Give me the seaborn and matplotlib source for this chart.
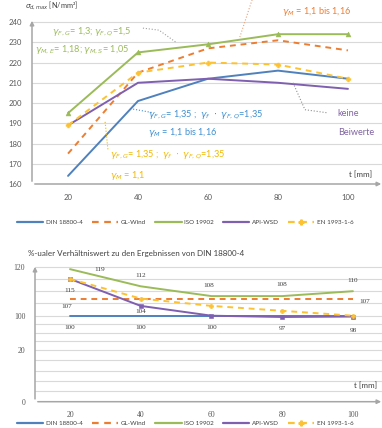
import numpy as np
import pandas as pd
import matplotlib
matplotlib.use('Agg')
import matplotlib.pyplot as plt
import seaborn as sns
from matplotlib.lines import Line2D

# --- data ---
thickness = [20, 40, 60, 80, 100]
norms = ['DIN 18800-4', 'GL-Wind', 'ISO 19902', 'API-WSD', 'EN 1993-1-6']

din_stress = [164, 201, 212, 216, 212]
gl_stress = [175, 215, 227, 231, 226]
iso_stress = [195, 225, 229, 234, 234]
api_stress = [189, 210, 212, 210, 207]
en_stress = [189, 215, 220, 219, 212]

din_ratio = [100, 100, 100, 100, 100]
gl_ratio = [107, 107, 107, 107, 107]
iso_ratio = [119, 112, 108, 108, 110]
api_ratio = [115, 104, 100, 97, 98]
en_ratio = [115, 107, 104, 102, 100]

top_yticks = [160, 170, 180, 190, 200, 210, 220, 230, 240]
bottom_yticks = [0, 20, 100, 120]
bottom_minor = [4, 8, 12, 16, 40, 60, 80, 105, 110, 115]

# --- styles ---
colors = {'DIN 18800-4': '#4f81bd', 'GL-Wind': '#ed7d31', 'ISO 19902': '#9bbb59',
          'API-WSD': '#7f5fb0', 'EN 1993-1-6': '#fcc233'}
lstyles = {'DIN 18800-4': '-', 'GL-Wind': (0, (3, 2.5)), 'ISO 19902': '-',
           'API-WSD': '-', 'EN 1993-1-6': (0, (3, 2.5))}
markers_top = {'DIN 18800-4': None, 'GL-Wind': None, 'ISO 19902': '^',
               'API-WSD': None, 'EN 1993-1-6': 'P'}
markers_bot = {'DIN 18800-4': None, 'GL-Wind': None, 'ISO 19902': None,
               'API-WSD': 's', 'EN 1993-1-6': 'P'}

stress = pd.DataFrame({'t': thickness, 'DIN 18800-4': din_stress, 'GL-Wind': gl_stress,
                       'ISO 19902': iso_stress, 'API-WSD': api_stress, 'EN 1993-1-6': en_stress})
ratio = pd.DataFrame({'t': thickness, 'DIN 18800-4': din_ratio, 'GL-Wind': gl_ratio,
                      'ISO 19902': iso_ratio, 'API-WSD': api_ratio, 'EN 1993-1-6': en_ratio})

sns.set_style('white')
plt.rcParams['font.family'] = ['Lato', 'DejaVu Sans']
plt.rcParams['mathtext.fontset'] = 'dejavusans'

W, H = 382, 428
fig = plt.figure(figsize=(W / 100, H / 100), dpi=100)
grid_c = '#d9d9d9'
axis_c = '#a6a6a6'
tick_c = '#595959'


def add_arrows(ax):
    for sp in ax.spines.values():
        sp.set_visible(False)
    kw = dict(arrowstyle='-|>', color=axis_c, lw=1.1, mutation_scale=6)
    ax.annotate('', xy=(0, 1), xytext=(0, 0), xycoords='axes fraction', arrowprops=kw, annotation_clip=False)
    ax.annotate('', xy=(1, 0), xytext=(0, 0), xycoords='axes fraction', arrowprops=kw, annotation_clip=False)


# ================= top chart =================
ax1 = fig.add_axes([32 / W, 1 - 184 / H, 352 / W, 166 / H])
for n in norms:
    m = markers_top[n]
    sns.lineplot(data=stress, x='t', y=n, ax=ax1, color=colors[n], linestyle=lstyles[n],
                 lw=1.4, marker=m, markersize=3.5 if m else 0, markeredgewidth=0.4,
                 markeredgecolor=colors[n])
ax1.set_xlim(9.7, 110.3)
ax1.set_ylim(160, 242)
ax1.set_xticks(thickness)
ax1.set_yticks(top_yticks)
ax1.grid(axis='y', color=grid_c, lw=0.8)
ax1.grid(axis='x', visible=False)
ax1.set_xlabel('')
ax1.set_ylabel('')
ax1.tick_params(length=0, labelsize=5.6, colors=tick_c, pad=7)
add_arrows(ax1)

ax1.text(-0.02, 1.06, r'$\sigma_{d,max}$ [N/mm²]', transform=ax1.transAxes, fontsize=5.3, color='#404040')
ax1.text(0.9, 0.04, 't [mm]', transform=ax1.transAxes, fontsize=5.8, color='#404040', ha='left')

# annotations
fs = 6.6
ax1.text(15.4, 235.1, r'$\gamma_{F,G}$= 1,3; $\gamma_{F,Q}$=1,5', color='#9bbb59', fontsize=fs, va='center')
ax1.text(10.6, 226.2, r'$\gamma_{M,E}$= 1,18; $\gamma_{M,S}$= 1,05', color='#9bbb59', fontsize=fs, va='center')
ax1.plot([41.4, 46, 51.1], [237, 236, 229.7], ls=':', color='#a0a0a0', lw=0.8)

ax1.text(81.1, 245.4, r'$\gamma_M$ = 1,1 bis 1,16', color='#ed7d31', fontsize=fs, va='center', clip_on=False)
ax1.plot([72.6, 69.1], [251, 232.6], ls=':', color='#e8a27a', lw=0.8, clip_on=False)

ax1.text(42.9, 194.2, r'$\gamma_{F,G}$= 1,35 ;  $\gamma_f\ \cdot\ \gamma_{F,Q}$=1,35', color='#3d8fd1', fontsize=fs, va='center')
ax1.text(42.9, 185.3, r'$\gamma_M$ = 1,1 bis 1,16', color='#3d8fd1', fontsize=fs, va='center')
ax1.plot([38.6, 44.3], [197, 195.2], ls=':', color='#3d8fd1', lw=0.8)

ax1.text(97.1, 194.7, 'keine', color='#8064a2', fontsize=fs, va='center')
ax1.text(97.1, 185.3, 'Beiwerte', color='#8064a2', fontsize=fs, va='center')
ax1.plot([84.3, 87.7, 94], [210, 196.7, 195.2], ls=':', color='#909090', lw=0.8)

ax1.text(32, 174.5, r'$\gamma_{F,G}$= 1,35 ;  $\gamma_f\ \cdot\ \gamma_{F,Q}$=1,35', color='#f0b800', fontsize=fs, va='center')
ax1.text(32, 164.1, r'$\gamma_M$ = 1,1', color='#f0b800', fontsize=fs, va='center')
ax1.plot([30.6, 31.4], [190.7, 177], ls=':', color='#f0b800', lw=0.8)

# ================= bottom chart (broken axis) =================
brk_v = [-10, 0, 20, 100, 120, 140]
brk_p = [-25.9, 0, 51.7, 86, 135, 184]


def fwd(v):
    return np.interp(v, brk_v, brk_p)


def inv(p):
    return np.interp(p, brk_p, brk_v)


ax2 = fig.add_axes([35 / W, 1 - 401.7 / H, 349 / W, 137.7 / H])
ax2.set_yscale('function', functions=(fwd, inv))
for n in norms:
    m = markers_bot[n]
    sns.lineplot(data=ratio, x='t', y=n, ax=ax2, color=colors[n], linestyle=lstyles[n],
                 lw=1.4, marker=m, markersize=3.2 if m else 0, markeredgewidth=0.4,
                 markeredgecolor=colors[n])
ax2.set_xlim(10.1, 108.8)
ax2.set_ylim(0, 121.1)
ax2.set_xticks(thickness)
ax2.set_yticks(bottom_yticks)
ax2.set_yticks(bottom_minor, minor=True)
ax2.grid(axis='y', which='both', color=grid_c, lw=0.8)
ax2.grid(axis='x', visible=False)
ax2.set_xlabel('')
ax2.set_ylabel('')
ax2.tick_params(which='both', length=0, labelsize=5.6, colors=tick_c, pad=7)
for lab in ax2.get_xticklabels() + ax2.get_yticklabels():
    lab.set_family('Liberation Serif')
add_arrows(ax2)

ax2.text(-0.02, 1.06, '%-ualer Verhältniswert zu den Ergebnissen von DIN 18800-4',
         transform=ax2.transAxes, fontsize=5.8, color='#404040')
ax2.text(0.915, 0.1, 't [mm]', transform=ax2.transAxes, fontsize=5.8, color='#404040', ha='left')

# data labels (x, value, dx px, dy px)
labels = [
    (20, 119, 30, 0), (40, 112, 0, 11), (60, 108, -3, 11), (80, 108, 0, 12), (100, 110, 0, 11),
    (20, 115, 0, -12), (20, 107, -3, -8), (40, 104, 0, -6),
    (20, 100, 0, -12), (40, 100, 0, -12), (60, 100, 0, -12),
    (80, 97, 0, -12), (100, 98, 0, -14), (100, 107, 12, -3),
]
for x, v, dx, dy in labels:
    ax2.annotate(str(v), (x, v), xytext=(dx * 0.72, dy * 0.72), textcoords='offset points',
                 ha='center', va='center', fontsize=5.2, color='#404040', family='Liberation Serif')

# ================= legends =================
handles = [Line2D([], [], color=colors[n], linestyle=lstyles[n], lw=1.6,
                  marker=markers_top[n] if n == 'EN 1993-1-6' else None, markersize=3.5)
           for n in norms]
for yc in [1 - 222 / H, 1 - 423 / H]:
    fig.legend(handles, norms, loc='center left', bbox_to_anchor=(0.03, yc), ncol=5,
               frameon=False, fontsize=4.5, handlelength=4.2, columnspacing=1.5,
               handletextpad=0.4, labelcolor='#404040')

fig.savefig('out.png', dpi=100)
